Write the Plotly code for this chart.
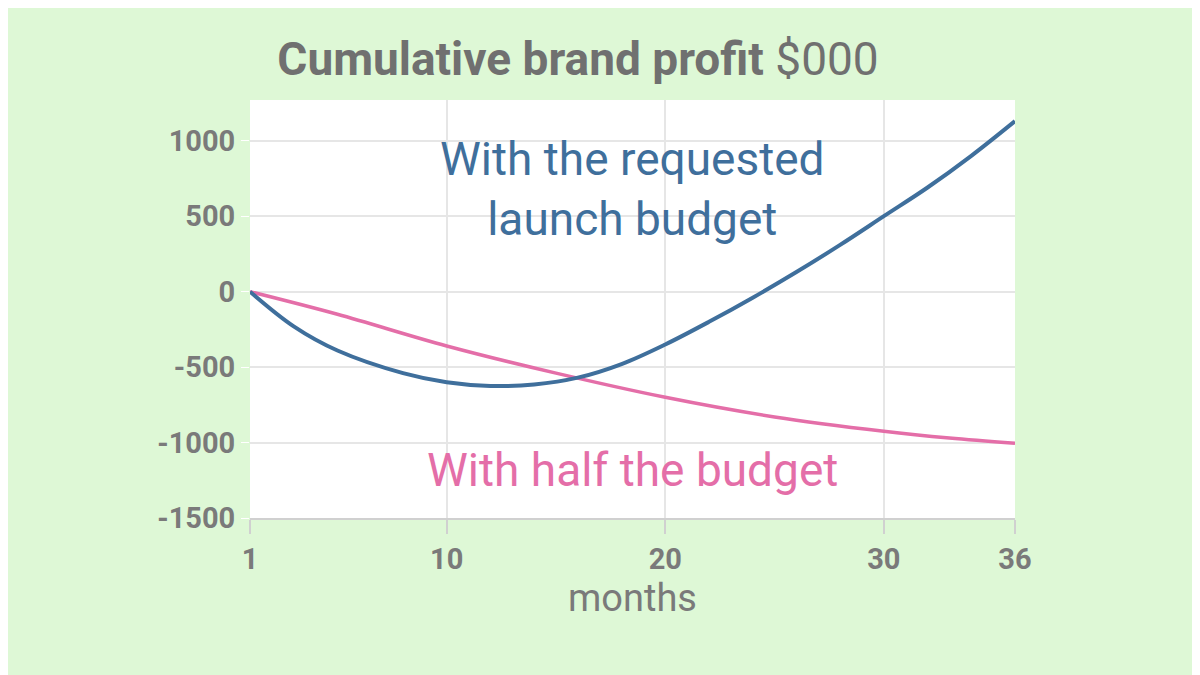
import plotly.graph_objects as go

months_blue = [1, 3, 5, 8, 10, 12, 14, 16, 18, 20, 22, 24, 26, 28, 30, 32, 34, 36]
profit_blue = [0, -230, -390, -540, -600, -625, -615, -570, -480, -350, -200, -40, 130, 310, 500, 690, 900, 1130]
months_pink = [1, 5, 10, 15, 20, 25, 30, 33, 36]
profit_pink = [0, -150, -360, -540, -700, -830, -925, -970, -1005]
x_ticks = [1, 10, 20, 30, 36]
y_ticks = [1000, 500, 0, -500, -1000, -1500]
y_tick_labels = ["<b>1000</b>", "<b>500</b>", "<b>0</b>", "<b>-500</b>", "<b>-1000</b>", "<b>-1500</b>"]
x_tick_labels = ["<b>1</b>", "<b>10</b>", "<b>20</b>", "<b>30</b>", "<b>36</b>"]

fig = go.Figure()
fig.add_trace(go.Scatter(x=months_pink, y=profit_pink, mode="lines", line=dict(color="#e46ea8", width=3.5, shape="spline"), hoverinfo="skip"))
fig.add_trace(go.Scatter(x=months_blue, y=profit_blue, mode="lines", line=dict(color="#3f6f9c", width=4, shape="spline"), hoverinfo="skip"))

fig.add_annotation(x=18.5, y=680, text="With the requested<br>launch budget", showarrow=False,
                   font=dict(family="Roboto", size=46, color="#3f6f9c"), align="center")
fig.add_annotation(x=18.5, y=-1180, text="With half the budget", showarrow=False,
                   font=dict(family="Roboto", size=46, color="#e46ea8"))

fig.update_layout(
    width=1200, height=675, showlegend=False,
    paper_bgcolor="#def8d6", plot_bgcolor="#ffffff",
    margin=dict(l=242, r=193, t=92, b=165),
    title=dict(text="<b>Cumulative brand profit</b> $000", x=0.475, xanchor="center", y=0.925, yanchor="middle",
               font=dict(family="Roboto", size=46, color="#707070")),
    font=dict(family="Roboto", color="#7a7a7a"),
)
fig.update_xaxes(range=[1, 36], tickvals=x_ticks, ticktext=x_tick_labels, showgrid=True, gridcolor="#e6e6e6", gridwidth=2,
                 zeroline=False, showline=True, linecolor="#d0d0d0", linewidth=2,
                 ticks="outside", ticklen=14, tickcolor="#d0d0d0", tickwidth=2,
                 tickfont=dict(size=29, color="#7a7a7a", family="Roboto"),
                 title=dict(text="months", font=dict(size=38, color="#7a7a7a", family="Roboto"), standoff=5))
fig.update_yaxes(range=[-1500, 1270], tickvals=y_ticks, ticktext=y_tick_labels, showgrid=True, gridcolor="#e6e6e6", gridwidth=2,
                 zeroline=False, ticks="outside", ticklen=8, tickcolor="#ffffff",
                 tickfont=dict(size=29, color="#7a7a7a", family="Roboto"))
fig.write_html("out.html")
